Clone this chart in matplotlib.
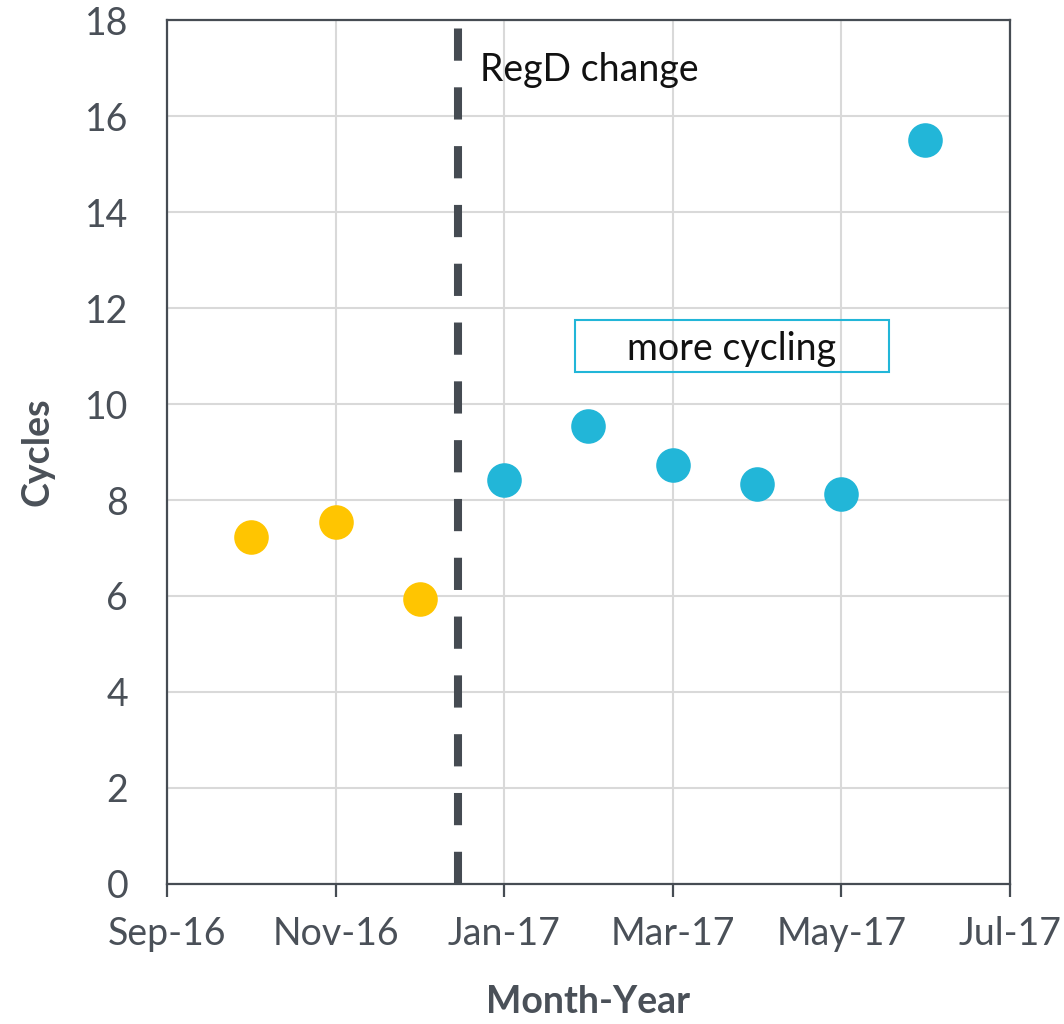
import numpy as np
import matplotlib
matplotlib.use("Agg")
import matplotlib.pyplot as plt
from matplotlib.patches import Rectangle

plt.rcParams["font.family"] = ["Lato", "DejaVu Sans"]

# Month axis runs Sep-16 .. Jul-17, one slot per month (Excel-style even spacing)
months = ["Sep-16", "Oct-16", "Nov-16", "Dec-16", "Jan-17", "Feb-17",
          "Mar-17", "Apr-17", "May-17", "Jun-17", "Jul-17"]
tick_labels = ["Sep-16", "Nov-16", "Jan-17", "Mar-17", "May-17", "Jul-17"]

# Monthly cycle counts, before and after the RegD change
before_months = ["Oct-16", "Nov-16", "Dec-16"]
before_cycles = [7.22, 7.55, 5.93]
after_months = ["Jan-17", "Feb-17", "Mar-17", "Apr-17", "May-17", "Jun-17"]
after_cycles = [8.42, 9.55, 8.73, 8.33, 8.12, 15.5]
regd_change = 3.45   # mid-December, in month slots from Sep-16
y_ticks = list(range(0, 20, 2))

idx = {m: i for i, m in enumerate(months)}
dark = "#464c53"
grid_c = "#d9d9d9"

fig = plt.figure(figsize=(10.64, 10.24), dpi=100)
ax = fig.add_axes([0.157, 0.137, 0.792, 0.843])

ax.scatter([idx[m] for m in before_months], before_cycles, s=620,
           color="#ffc501", zorder=3, linewidths=0)
ax.scatter([idx[m] for m in after_months], after_cycles, s=620,
           color="#22b6d8", zorder=3, linewidths=0)

ax.axvline(regd_change, color="#454b52", linewidth=5.8, dashes=(4, 3.3), zorder=4)
ax.text(regd_change + 0.26, 16.96, "RegD change", fontsize=27,
        color="#111111", va="center", ha="left")

ax.add_patch(Rectangle((0.484, 0.5926), 0.3725, 0.0602, transform=ax.transAxes,
                       fill=False, edgecolor="#22b6d8", linewidth=1.5, zorder=5))
ax.text(0.670, 0.619, "more cycling", transform=ax.transAxes, fontsize=27,
        color="#111111", ha="center", va="center", zorder=6)

ax.set_xlim(0, len(months) - 1)
ax.set_ylim(0, 18)
ax.set_yticks(y_ticks)
ax.set_xticks([idx[m] for m in tick_labels])
ax.set_xticklabels(tick_labels)

ax.grid(True, color=grid_c, linewidth=1.5)
ax.set_axisbelow(True)
for sp in ax.spines.values():
    sp.set_color(dark)
    sp.set_linewidth(1.6)

ax.tick_params(axis="x", length=9, width=1.6, color=dark, labelsize=27,
               labelcolor="#4a5058", pad=14)
ax.tick_params(axis="y", length=0, labelsize=27, labelcolor="#4a5058", pad=28)

ax.set_xlabel("Month-Year", fontsize=27, fontweight="bold", color="#4a5058", labelpad=24)
ax.set_ylabel("Cycles", fontsize=27, fontweight="bold", color="#4a5058", labelpad=22)

fig.savefig("out.png", dpi=100)
